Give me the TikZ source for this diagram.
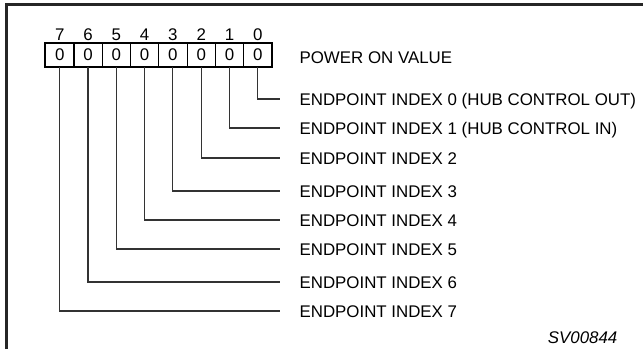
\documentclass[tikz,border=0pt]{standalone}
\usepackage{fontspec}
\setmainfont{Liberation Sans}
\usepackage{tikz}
\usetikzlibrary{positioning}

\begin{document}
\begin{tikzpicture}[
  x=0.02cm, y=-0.02cm,
  txt/.style={font=\fontsize{9.6}{11}\selectfont},
  cell/.style={txt,draw,line width=0.5pt,minimum width=0.566cm,minimum height=0.48cm,inner sep=0pt},
  bitno/.style={txt,inner sep=1pt},
  lab/.style={txt,anchor=west,text height=1.5ex,text depth=0pt,inner sep=3pt},
  wire/.style={line width=0.6pt,black!80,shorten >=0.28cm},
  frame/.style={line width=1.2pt,black!85}
]
\useasboundingbox (0,0) rectangle (643,349);

% ===================== frame (top and left edges only) =====================
\draw[frame] (6.5,349) -- (6.5,4.5) -- (643,4.5);

% ===================== register: bit 7 ... bit 0 =====================
\foreach \i in {0,...,7} {
  \node[cell] (b\i) at ({59.7+(7-\i)*28.3},55) {0};
  \node[bitno,above=0pt of b\i] (n\i) {\i};
}
\draw[line width=1.2pt] (b7.north west) rectangle (b0.south east);
\draw[line width=1.2pt] (b7.north west) rectangle (b7.south east);

\node[lab] (pov) at (294,57) {POWER ON VALUE};

% ===================== endpoint labels =====================
\node[lab] (l0) at (294,99) {ENDPOINT INDEX 0 (HUB CONTROL OUT)};
\node[lab] (l1) at (294,128) {ENDPOINT INDEX 1 (HUB CONTROL IN)};
\node[lab] (l2) at (294,158) {ENDPOINT INDEX 2};
\node[lab] (l3) at (294,191) {ENDPOINT INDEX 3};
\node[lab] (l4) at (294,220) {ENDPOINT INDEX 4};
\node[lab] (l5) at (294,249) {ENDPOINT INDEX 5};
\node[lab] (l6) at (294,282) {ENDPOINT INDEX 6};
\node[lab] (l7) at (294,311) {ENDPOINT INDEX 7};

% connectors from each bit down and over to its label
\foreach \i in {0,...,7} {
  \draw[wire] (b\i.south) |- (l\i.west);
}

\node[lab,anchor=east,font=\fontsize{9.6}{11}\selectfont\itshape] (code) at (623,337) {SV00844};

\end{tikzpicture}
\end{document}
